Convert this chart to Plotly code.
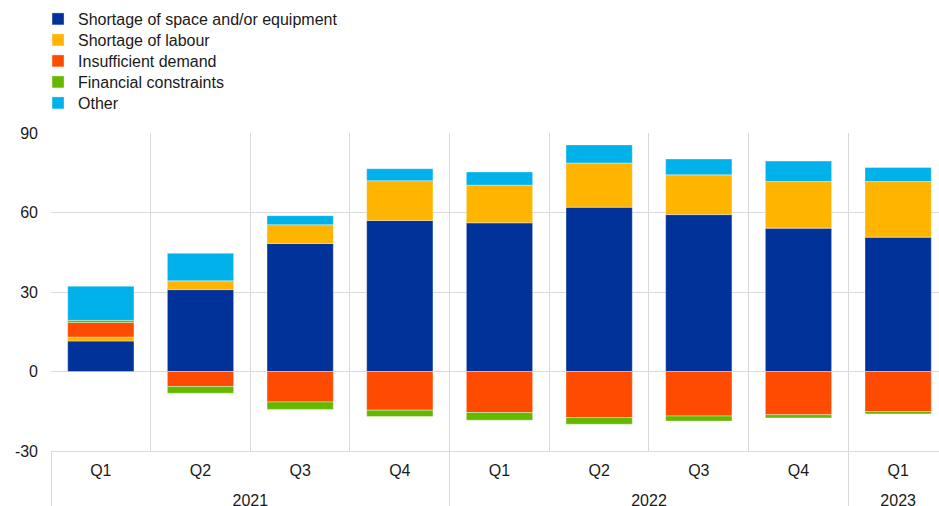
import plotly.graph_objects as go

years = ["2021", "2021", "2021", "2021", "2022", "2022", "2022", "2022", "2023"]
quarters = ["Q1", "Q2", "Q3", "Q4", "Q1", "Q2", "Q3", "Q4", "Q1"]

space_equipment = [11.5, 30.9, 48.3, 57.0, 56.1, 62.0, 59.2, 54.1, 50.7]
labour = [1.5, 3.3, 7.1, 15.0, 14.2, 16.7, 15.0, 17.6, 21.0]
demand = [5.5, -5.7, -11.5, -14.6, -15.5, -17.4, -16.8, -16.3, -15.1]
financial = [0.8, -2.5, -2.8, -2.4, -2.9, -2.5, -1.9, -1.2, -0.9]
other = [12.9, 10.4, 3.4, 4.5, 5.0, 6.8, 6.0, 7.7, 5.3]

y_tickvals = [-30, 0, 30, 60, 90]
y_ticktext = ["-30", "0", "30", "60", "90"]

series = [
    ("Shortage of space and/or equipment", space_equipment, "#003299"),
    ("Shortage of labour", labour, "#FFB400"),
    ("Insufficient demand", demand, "#FF4B00"),
    ("Financial constraints", financial, "#65B800"),
    ("Other", other, "#00B1EA"),
]

SPAN = "<span style='font-size:16px'>{}</span>"
quarter_labels = [SPAN.format(q) for q in quarters]
# outer-level labels sit a little lower than Plotly's default spacing
year_labels = ["<br>" + SPAN.format(y) for y in years]

H = 506
legend_centers_px = [19, 40, 61, 82, 103]
legend_names = ["legend", "legend2", "legend3", "legend4", "legend5"]

fig = go.Figure()
for (name, vals, col), lg in zip(series, legend_names):
    fig.add_trace(go.Bar(
        x=[year_labels, quarter_labels], y=vals, name=name, legend=lg, showlegend=True,
        marker=dict(color=col, line=dict(width=0.6, color="rgba(255,255,255,0.6)")),
        width=0.665,
    ))

grid = "#d9d9d9"
txt = "#1a1a1a"
layout_legends = {}
for lg, cy in zip(legend_names, legend_centers_px):
    layout_legends[lg] = dict(
        x=-0.0146, xanchor="left", y=1 - cy / H, yref="container", yanchor="middle",
        font=dict(size=16, color=txt), bgcolor="rgba(0,0,0,0)",
        borderwidth=0,
    )

fig.update_layout(
    width=939, height=H,
    showlegend=True,
    barmode="relative",
    paper_bgcolor="white", plot_bgcolor="white",
    margin=dict(l=51, r=0, t=133, b=55, autoexpand=False),
    font=dict(family="Liberation Sans, Arial, sans-serif", size=16, color=txt),
    xaxis=dict(
        type="multicategory", range=[-0.5, 8.41],
        showgrid=True, gridcolor=grid, gridwidth=1, tickson="boundaries",
        showdividers=True, dividercolor=grid, dividerwidth=1,
        showline=True, linecolor=grid, linewidth=1,
        ticks="", ticklabelstandoff=7,
        tickfont=dict(size=14, color=txt),
    ),
    yaxis=dict(
        range=[-30, 90], tickvals=y_tickvals, ticktext=y_ticktext,
        showgrid=True, gridcolor=grid, gridwidth=1,
        zeroline=True, zerolinecolor=grid, zerolinewidth=1,
        showline=False, ticks="", ticklabelstandoff=12,
        tickfont=dict(size=16, color=txt),
    ),
    **layout_legends,
)

fig.write_html(
    "out.html",
    config={"displayModeBar": False},
    post_script="document.body.style.margin='0';document.body.style.overflow='hidden';",
)
